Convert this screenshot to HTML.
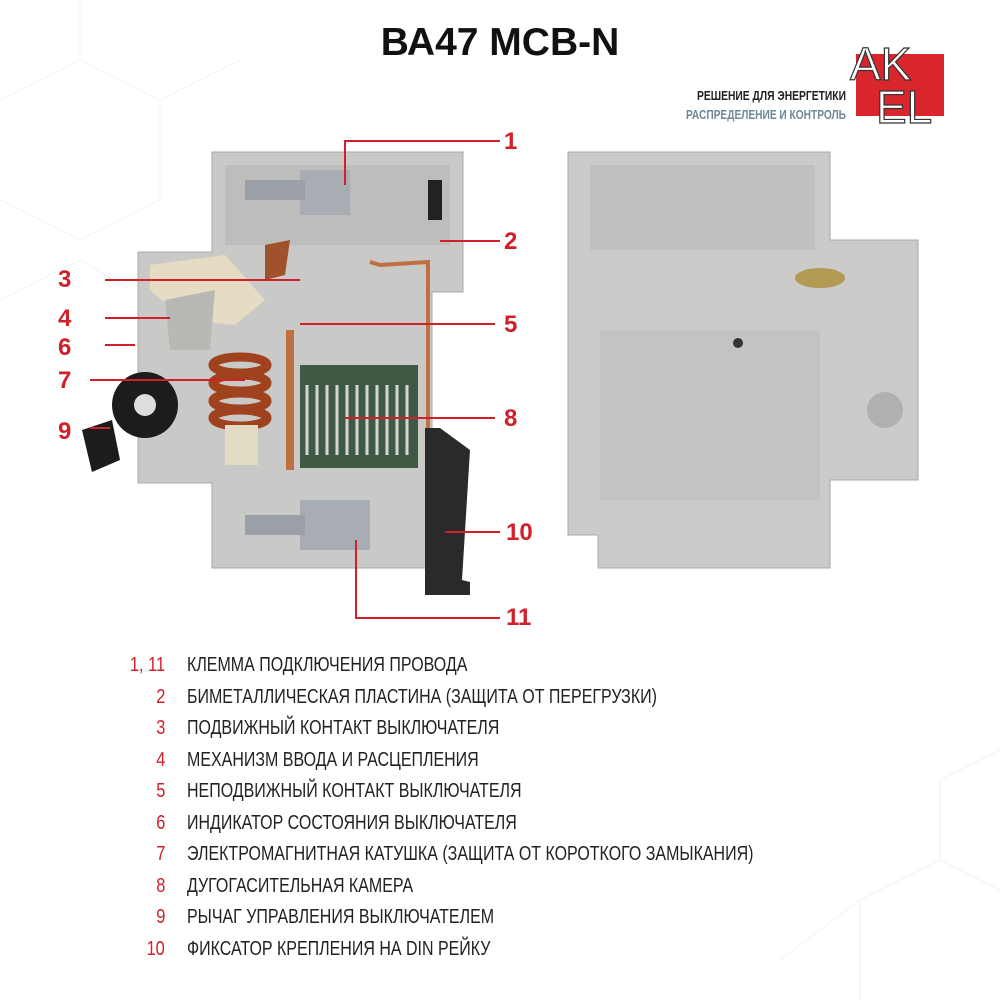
<!DOCTYPE html>
<html><head><meta charset="utf-8"><style>
body{margin:0;width:1000px;height:1000px;background:#fff;position:relative;overflow:hidden;font-family:"Liberation Sans",sans-serif}
.t{position:absolute;left:0;width:1000px;top:21px;text-align:center;font-weight:bold;font-size:39px;color:#111}
.list{position:absolute;left:0;top:653px;font-size:20.5px;color:#222}
.row{position:absolute;height:31px;white-space:nowrap;left:0;width:1000px}
.n{position:absolute;right:835px;color:#d0202a;text-align:right;transform:scaleX(0.8);transform-origin:right}
.x{position:absolute;left:187px;transform:scaleX(0.78);transform-origin:left}
.lb{position:absolute;font-weight:bold;font-size:24px;color:#d0202a}
</style></head><body>
<svg width="1000" height="1000" style="position:absolute;left:0;top:0">
<g stroke="#f0f2f5" stroke-width="1" fill="none">
<path d="M0 100 L80 60 L160 100 L160 200 L80 240 L0 200 M80 60 L80 0 M160 100 L240 60 M0 300 L80 260 L130 290"/>
<path d="M860 900 L940 860 L1000 890 M860 900 L860 1000 M940 860 L940 780 L1000 750 M780 960 L860 900"/>
</g>
<path d="M212 152 L463 152 L463 292 L432 292 L432 568 L212 568 L212 483 L138 483 L138 252 L212 252 Z" fill="#c9c9c7" stroke="#a9a9a7"/>
<rect x="225" y="165" width="225" height="80" fill="#bdbdbb"/>
<rect x="300" y="170" width="50" height="45" fill="#a8adb3"/>
<rect x="245" y="180" width="60" height="20" fill="#9aa0a6"/>
<rect x="428" y="180" width="14" height="40" fill="#222"/>
<path d="M150 265 L225 255 L265 300 L235 325 L185 320 L150 290 Z" fill="#e6dcc3"/>
<path d="M265 245 L290 240 L285 275 L265 280Z" fill="#a0522d"/>
<path d="M165 300 L215 290 L210 350 L170 350Z" fill="#b8b8b4"/>
<circle cx="145" cy="405" r="33" fill="#1c1c1c"/><circle cx="145" cy="405" r="11" fill="#ddd"/>
<path d="M82 430 L112 420 L120 460 L92 472 Z" fill="#1c1c1c"/>
<g fill="none" stroke="#a0421e" stroke-width="9"><ellipse cx="240" cy="365" rx="27" ry="8"/><ellipse cx="240" cy="383" rx="27" ry="8"/><ellipse cx="240" cy="401" rx="27" ry="8"/><ellipse cx="240" cy="418" rx="27" ry="8"/></g>
<rect x="225" y="425" width="33" height="40" fill="#e3dcc4"/>
<path d="M290 330 L290 470" stroke="#c07040" stroke-width="8"/>
<path d="M370 262 L380 265 L428 262 L428 470" stroke="#c07040" stroke-width="4" fill="none"/>
<rect x="300" y="365" width="118" height="103" fill="#3e5a45"/>
<g stroke="#d5d5d5" stroke-width="3">
<path d="M307 385 V455 M317 385 V455 M327 385 V455 M337 385 V455 M347 385 V455 M357 385 V455 M367 385 V455 M377 385 V455 M387 385 V455 M397 385 V455 M407 385 V455"/></g>
<rect x="300" y="500" width="70" height="50" fill="#a8adb3"/>
<rect x="245" y="515" width="60" height="20" fill="#9aa0a6"/>
<path d="M425 428 L440 428 L470 450 L462 580 L470 582 L470 595 L425 595 Z" fill="#2a2a2a"/>
<path d="M568 152 L830 152 L830 240 L918 240 L918 480 L830 480 L830 568 L598 568 L598 535 L568 535 Z" fill="#cbcbc9" stroke="#a9a9a7"/>
<rect x="590" y="165" width="225" height="85" fill="#c0c0be"/>
<rect x="600" y="330" width="220" height="170" fill="#c3c3c1"/>
<circle cx="885" cy="410" r="18" fill="#b0b0ae"/>
<ellipse cx="820" cy="278" rx="25" ry="10" fill="#b29a52"/>
<circle cx="738" cy="343" r="5" fill="#333"/>
<g stroke="#d0202a" stroke-width="2" fill="none">
<path d="M345 185 V141 H500"/><path d="M440 241 H500"/><path d="M105 280 H300"/><path d="M105 318 H170"/>
<path d="M300 324 H495"/><path d="M105 345 H135"/><path d="M90 380 H245"/><path d="M345 418 H495"/>
<path d="M90 428 H110"/><path d="M445 532 H500"/><path d="M356 540 V618 H500"/></g>
<rect x="856" y="54" width="88" height="62" fill="#d8262c"/>
<text x="850" y="80" font-size="46" font-family="Liberation Sans" fill="#fff" stroke="#333" stroke-width="1.2">AK</text>
<text x="876" y="123" font-size="46" font-family="Liberation Sans" fill="#fff" stroke="#333" stroke-width="1.2">EL</text>
<text x="697" y="100" textLength="149" lengthAdjust="spacingAndGlyphs" font-size="13" font-weight="bold" font-family="Liberation Sans" fill="#222">РЕШЕНИЕ ДЛЯ ЭНЕРГЕТИКИ</text>
<text x="686" y="119" textLength="160" lengthAdjust="spacingAndGlyphs" font-size="13" font-weight="bold" font-family="Liberation Sans" fill="#6e8898">РАСПРЕДЕЛЕНИЕ И КОНТРОЛЬ</text>
</svg>
<div class="t">ВА47 МСВ-N</div>
<div class="lb" style="left:504px;top:128px">1</div>
<div class="lb" style="left:504px;top:228px">2</div>
<div class="lb" style="left:58px;top:266px">3</div>
<div class="lb" style="left:58px;top:305px">4</div>
<div class="lb" style="left:504px;top:311px">5</div>
<div class="lb" style="left:58px;top:334px">6</div>
<div class="lb" style="left:58px;top:367px">7</div>
<div class="lb" style="left:504px;top:405px">8</div>
<div class="lb" style="left:58px;top:418px">9</div>
<div class="lb" style="left:506px;top:519px">10</div>
<div class="lb" style="left:506px;top:604px">11</div>
<div class="list">
<div class="row" style="top:0"><span class="n">1, 11</span><span class="x">КЛЕММА ПОДКЛЮЧЕНИЯ ПРОВОДА</span></div>
<div class="row" style="top:31.5px"><span class="n">2</span><span class="x">БИМЕТАЛЛИЧЕСКАЯ ПЛАСТИНА (ЗАЩИТА ОТ ПЕРЕГРУЗКИ)</span></div>
<div class="row" style="top:63px"><span class="n">3</span><span class="x">ПОДВИЖНЫЙ КОНТАКТ ВЫКЛЮЧАТЕЛЯ</span></div>
<div class="row" style="top:94.5px"><span class="n">4</span><span class="x">МЕХАНИЗМ ВВОДА И РАСЦЕПЛЕНИЯ</span></div>
<div class="row" style="top:126px"><span class="n">5</span><span class="x">НЕПОДВИЖНЫЙ КОНТАКТ ВЫКЛЮЧАТЕЛЯ</span></div>
<div class="row" style="top:157.5px"><span class="n">6</span><span class="x">ИНДИКАТОР СОСТОЯНИЯ ВЫКЛЮЧАТЕЛЯ</span></div>
<div class="row" style="top:189px"><span class="n">7</span><span class="x">ЭЛЕКТРОМАГНИТНАЯ КАТУШКА (ЗАЩИТА ОТ КОРОТКОГО ЗАМЫКАНИЯ)</span></div>
<div class="row" style="top:220.5px"><span class="n">8</span><span class="x">ДУГОГАСИТЕЛЬНАЯ КАМЕРА</span></div>
<div class="row" style="top:252px"><span class="n">9</span><span class="x">РЫЧАГ УПРАВЛЕНИЯ ВЫКЛЮЧАТЕЛЕМ</span></div>
<div class="row" style="top:283.5px"><span class="n">10</span><span class="x">ФИКСАТОР КРЕПЛЕНИЯ НА DIN РЕЙКУ</span></div>
</div>
</body></html>
